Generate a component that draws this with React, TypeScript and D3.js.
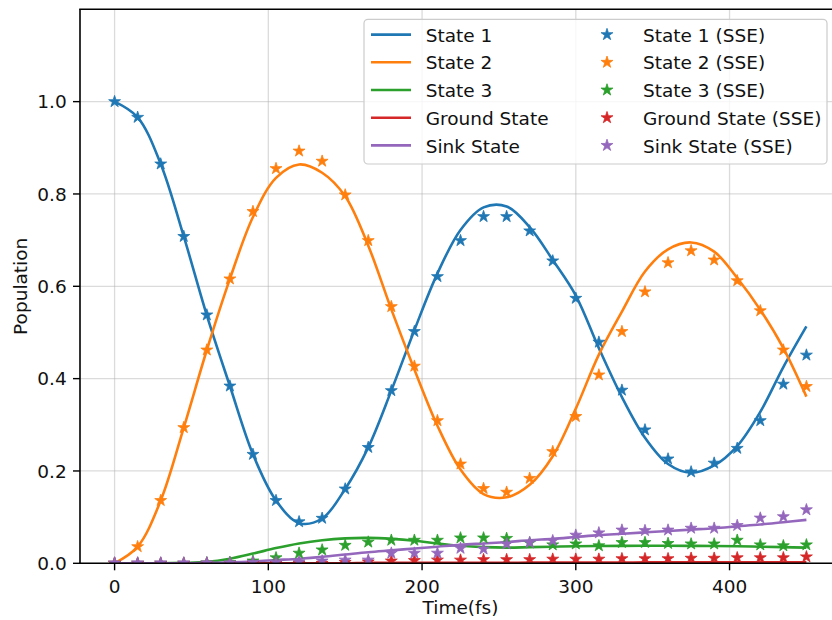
import * as d3 from 'd3';
import React from 'react';

// sample times (fs) shared by the curves and the SSE markers
const times = [0, 15, 30, 45, 60, 75, 90, 105, 120, 135, 150, 165, 180, 195, 210, 225, 240, 255, 270, 285, 300, 315, 330, 345, 360, 375, 390, 405, 420, 435, 450];

// smooth curves
const state1Line = [1.0, 0.966, 0.865, 0.708, 0.537, 0.384, 0.236, 0.136, 0.087, 0.097, 0.161, 0.251, 0.374, 0.505, 0.628, 0.722, 0.771, 0.773, 0.728, 0.657, 0.58, 0.466, 0.36, 0.272, 0.215, 0.196, 0.212, 0.254, 0.328, 0.425, 0.513];
const state2Line = [0.0, 0.036, 0.136, 0.294, 0.462, 0.616, 0.75, 0.835, 0.864, 0.846, 0.795, 0.688, 0.55, 0.42, 0.298, 0.203, 0.15, 0.143, 0.17, 0.232, 0.335, 0.452, 0.545, 0.632, 0.68, 0.695, 0.675, 0.618, 0.549, 0.466, 0.361];
const state3Line = [0, 0, 0, 0.001, 0.003, 0.01, 0.021, 0.033, 0.043, 0.05, 0.054, 0.055, 0.053, 0.049, 0.043, 0.038, 0.035, 0.034, 0.035, 0.036, 0.037, 0.0375, 0.0378, 0.038, 0.038, 0.0378, 0.0375, 0.037, 0.036, 0.035, 0.034];
const groundLine = [0, 0, 0, 0, 0, 0, 0, 0, 0, 0, 0, 0.001, 0.001, 0.001, 0.001, 0.001, 0.001, 0.001, 0.0015, 0.0015, 0.0015, 0.0015, 0.0015, 0.002, 0.002, 0.002, 0.002, 0.002, 0.002, 0.002, 0.002];
const sinkLine = [0, 0, 0, 0, 0.001, 0.002, 0.004, 0.007, 0.01, 0.014, 0.019, 0.024, 0.028, 0.032, 0.036, 0.04, 0.043, 0.046, 0.05, 0.053, 0.057, 0.061, 0.064, 0.067, 0.07, 0.073, 0.076, 0.08, 0.084, 0.089, 0.094];

// SSE markers
const state1SSE = [1.0, 0.966, 0.865, 0.708, 0.538, 0.384, 0.236, 0.136, 0.09, 0.0975, 0.161, 0.251, 0.374, 0.502, 0.621, 0.699, 0.751, 0.751, 0.72, 0.655, 0.574, 0.479, 0.375, 0.289, 0.226, 0.198, 0.217, 0.249, 0.309, 0.388, 0.451];
const state2SSE = [0.0, 0.036, 0.136, 0.294, 0.462, 0.616, 0.762, 0.855, 0.893, 0.871, 0.798, 0.699, 0.556, 0.427, 0.309, 0.215, 0.162, 0.154, 0.184, 0.242, 0.318, 0.408, 0.502, 0.588, 0.651, 0.677, 0.657, 0.612, 0.547, 0.462, 0.383];
const state3SSE = [0, 0, 0, 0, 0.001, 0.002, 0.005, 0.012, 0.022, 0.029, 0.039, 0.046, 0.05, 0.05, 0.05, 0.055, 0.055, 0.054, 0.044, 0.04, 0.042, 0.038, 0.045, 0.045, 0.043, 0.042, 0.042, 0.05, 0.04, 0.038, 0.04];
const groundSSE = [0, 0, 0, 0, 0, 0, 0, 0, 0, 0, 0.002, 0.003, 0.005, 0.006, 0.007, 0.007, 0.008, 0.008, 0.008, 0.009, 0.009, 0.009, 0.01, 0.01, 0.01, 0.011, 0.011, 0.012, 0.012, 0.012, 0.014];
const sinkSSE = [0.001, 0.001, 0.001, 0.001, 0.001, 0.001, 0.002, 0.002, 0.003, 0.005, 0.007, 0.007, 0.022, 0.022, 0.022, 0.0325, 0.031, 0.042, 0.045, 0.049, 0.061, 0.066, 0.072, 0.071, 0.072, 0.076, 0.076, 0.082, 0.098, 0.101, 0.116];

const lineNames = ['State 1', 'State 2', 'State 3', 'Ground State', 'Sink State'];
const sseNames = ['State 1 (SSE)', 'State 2 (SSE)', 'State 3 (SSE)', 'Ground State (SSE)', 'Sink State (SSE)'];
const colors = ['#1f77b4', '#ff7f0e', '#2ca02c', '#d62728', '#9467bd'];

const xTicks = [0, 100, 200, 300, 400];
const yTicks = [0, 0.2, 0.4, 0.6, 0.8, 1.0];

const W = 832;
const H = 620;
const left = 80;
const right = 841;
const top = 9.3;
const bottom = 563.3;
const font = '"DejaVu Sans", sans-serif';
const fs = 18.5;

const App = () => {
  const x = d3.scaleLinear([-22.5, 472.5], [left, right]);
  const y = d3.scaleLinear([0, 1.2], [bottom, top]);

  const line = d3
    .line<number>()
    .x((d, i) => x(times[i]))
    .y((d) => y(d))
    .curve(d3.curveCatmullRom);

  const star = d3.symbol(d3.symbolStar, 44)();

  const curves = [state1Line, state2Line, state3Line, groundLine, sinkLine];
  const markers = [state1SSE, state2SSE, state3SSE, groundSSE, sinkSSE];
  const fmt = d3.format('.1f');

  // legend geometry
  const lx = 364;
  const ly = 19.3;
  const rowH = 27.7;

  return (
    <svg width={W} height={H} style={{ position: 'absolute', left: 0, top: 0 }} fontFamily={font}>
      <defs>
        <clipPath id="plot">
          <rect x={left} y={top} width={right - left} height={bottom - top} />
        </clipPath>
      </defs>
      <rect width={W} height={H} fill="white" />

      {/* grid */}
      <g stroke="#b0b0b0" strokeOpacity={0.45} strokeWidth={1.3}>
        {xTicks.map((t) => (
          <line key={'gx' + t} x1={x(t)} x2={x(t)} y1={top} y2={bottom} />
        ))}
        {yTicks.map((t) => (
          <line key={'gy' + t} x1={left} x2={right} y1={y(t)} y2={y(t)} />
        ))}
      </g>

      <g clipPath="url(#plot)">
        {curves.map((c, k) => (
          <path key={'l' + k} d={line(c) || ''} fill="none" stroke={colors[k]} strokeWidth={2.6} />
        ))}
        {markers.map((m, k) => (
          <g key={'m' + k} fill={colors[k]} stroke={colors[k]} strokeWidth={0.8}>
            {m.map((v, i) => (
              <path key={i} d={star || ''} transform={`translate(${x(times[i])},${y(v)})`} />
            ))}
          </g>
        ))}
      </g>

      {/* spines */}
      <g stroke="black" strokeWidth={1.6} fill="none">
        <line x1={left} x2={left} y1={top} y2={bottom} />
        <line x1={left - 0.8} x2={right} y1={bottom} y2={bottom} />
        <line x1={left - 0.8} x2={right} y1={top} y2={top} />
        <line x1={right} x2={right} y1={top} y2={bottom} />
      </g>

      {/* x axis */}
      <g fontSize={fs} textAnchor="middle" fill="#111">
        {xTicks.map((t) => (
          <g key={'xt' + t}>
            <line x1={x(t)} x2={x(t)} y1={bottom} y2={bottom + 7} stroke="black" strokeWidth={1.4} />
            <text x={x(t)} y={592.7}>{t}</text>
          </g>
        ))}
        <text x={(left + right) / 2} y={614}>Time(fs)</text>
      </g>

      {/* y axis */}
      <g fontSize={fs} textAnchor="end" fill="#111">
        {yTicks.map((t) => (
          <g key={'yt' + t}>
            <line x1={left - 7} x2={left} y1={y(t)} y2={y(t)} stroke="black" strokeWidth={1.4} />
            <text x={66.7} y={y(t) + 6.7}>{fmt(t)}</text>
          </g>
        ))}
        <text transform={`translate(27,${(top + bottom) / 2}) rotate(-90)`} textAnchor="middle">
          Population
        </text>
      </g>

      {/* legend */}
      <g fontSize={fs} fill="#111">
        <rect x={lx} y={ly} width={463} height={144.7} rx={4} fill="white" fillOpacity={0.8} stroke="#cccccc" strokeWidth={1.2} />
        {lineNames.map((n, k) => (
          <g key={'ln' + k}>
            <line x1={371} x2={411} y1={ly + 15.3 + k * rowH} y2={ly + 15.3 + k * rowH} stroke={colors[k]} strokeWidth={2.6} />
            <text x={425.7} y={ly + 22.4 + k * rowH}>{n}</text>
          </g>
        ))}
        {sseNames.map((n, k) => (
          <g key={'sn' + k}>
            <path d={star || ''} transform={`translate(607,${ly + 15.3 + k * rowH})`} fill={colors[k]} stroke={colors[k]} strokeWidth={0.8} />
            <text x={643} y={ly + 22.4 + k * rowH}>{n}</text>
          </g>
        ))}
      </g>
    </svg>
  );
};

export default App;
